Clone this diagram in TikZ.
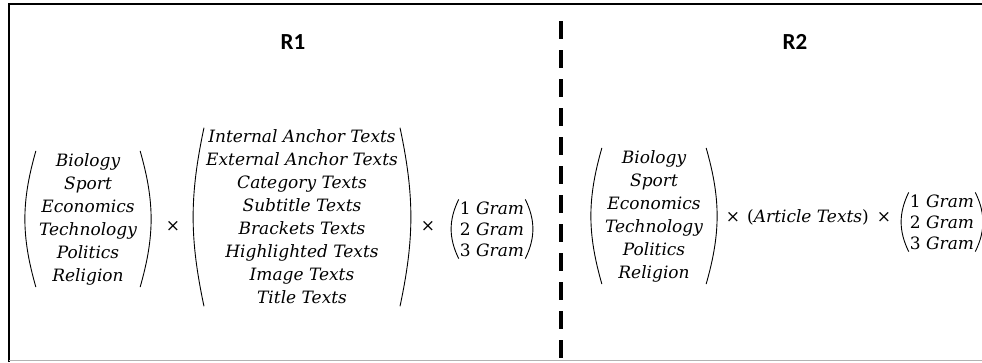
\documentclass[tikz,border=0pt]{standalone}
\usepackage{fontspec}
\setmainfont{DejaVu Serif}
\newfontfamily\headfont{Carlito}
\usepackage{tikz}

\tikzset{
    entry/.style={align=center, inner xsep=3pt, inner ysep=2pt,
        font=\itshape\fontsize{17}{23}\selectfont},
    gram/.style={entry, inner xsep=1pt, font=\itshape\fontsize{17}{21}\selectfont},
    paren/.style={line width=0.9pt},
    times/.style={font=\fontsize{17}{18}\selectfont},
    head/.style={font=\headfont\bfseries\fontsize{23}{26}\selectfont},
}

% round brackets on both sides of a node
\newcommand{\drawparens}[2]{%
    \draw[paren] (#1.north west) to[bend right=#2] (#1.south west);
    \draw[paren] (#1.north east) to[bend left=#2] (#1.south east);
}

\begin{document}
\begin{tikzpicture}[x=1pt, y=-1pt]
    \useasboundingbox (0,0) rectangle (982,362);
    % Frame and divider
        \draw[line width=2.5pt] (9,362) -- (9,4) -- (982,4);
        \draw[gray!60, line width=1.5pt] (9,360.5) -- (982,360.5);
        \draw[line width=4.5pt, dash pattern=on 18pt off 11pt] (561,21) -- (561,358);
    % Headings
        \node[head] (r1) at (293,42) {R1};
        \node[head] (r2) at (795,42) {R2};
    % R1
        \node[entry] (topics1) at (88,219)
            {Biology\\Sport\\Economics\\Technology\\Politics\\Religion};
        \node[times] (x1) at (173,226) {×};
        \node[entry, inner xsep=2pt] (sources) at (302,217)
            {Internal Anchor Texts\\External Anchor Texts\\Category Texts\\Subtitle Texts\\Brackets Texts\\Highlighted Texts\\Image Texts\\Title Texts};
        \node[times] (x2) at (428,226) {×};
        \node[gram] (grams1) at (492,229)
            {{\upshape 1} Gram\\{\upshape 2} Gram\\{\upshape 3} Gram};
    % R2
        \node[entry] (topics2) at (654,216)
            {Biology\\Sport\\Economics\\Technology\\Politics\\Religion};
        \node[times] (x3) at (733,217) {×};
        \node[entry] (article) at (808,217) {{\upshape(}Article Texts{\upshape)}};
        \node[times] (x4) at (884,217) {×};
        \node[gram] (grams2) at (942,222)
            {{\upshape 1} Gram\\{\upshape 2} Gram\\{\upshape 3} Gram};
    % Brackets
        \drawparens{topics1}{16}
        \drawparens{sources}{12}
        \drawparens{grams1}{26}
        \drawparens{topics2}{16}
        \drawparens{grams2}{26}
\end{tikzpicture}
\end{document}
